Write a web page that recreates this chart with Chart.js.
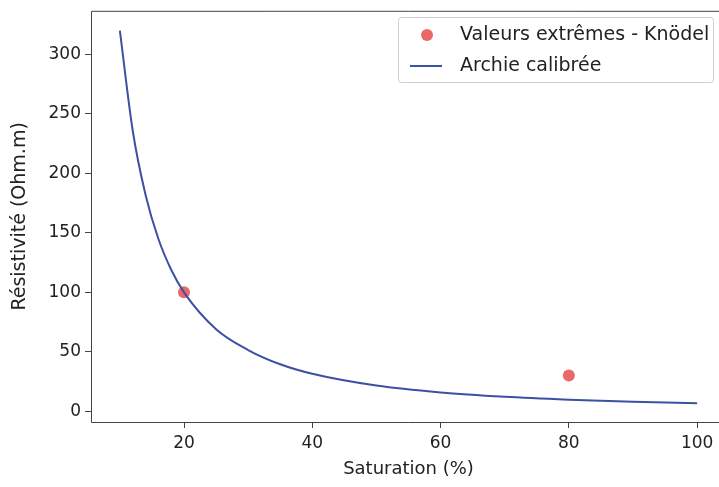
<!DOCTYPE html>
<html>
<head>
<meta charset="utf-8">
<script src="https://cdn.jsdelivr.net/npm/chart.js@4.4.1/dist/chart.umd.min.js"></script>
<style>
    html, body { margin: 0; padding: 0; background: #fff; overflow: hidden; }
    #wrap { width: 735px; height: 487px; }
</style>
</head>
<body>
<div id="wrap"><canvas id="chart" width="735" height="487"></canvas></div>
<script>
// values
const saturation = [10, 12, 14, 16, 18, 20, 25, 30, 35, 40, 50, 60, 70, 80, 90, 100];
const resistivity = [320, 236, 182, 145, 119, 100, 69, 51.5, 39.5, 31.5, 21.6, 15.8, 12.2, 9.8, 8.0, 6.7];
const knodelSat = [20, 80];
const knodelRes = [100, 30];
const xTicks = [20, 40, 60, 80, 100];
const yTicks = [0, 50, 100, 150, 200, 250, 300];
const labels = ['Valeurs extrêmes - Knödel', 'Archie calibrée'];

const lineColor = '#3d51a3';
const dotColor = 'rgba(232, 88, 88, 0.9)';
const font = 'DejaVu Sans';

// matplotlib-like frame and legend box
const frameAndLegend = {
    id: 'frameAndLegend',
    afterDraw(chart) {
        const ctx = chart.ctx;
        const a = chart.chartArea;
        ctx.save();
        ctx.strokeStyle = '#444';
        ctx.lineWidth = 1;
        ctx.beginPath();
        ctx.moveTo(a.right, a.top + 0.5);
        ctx.lineTo(a.left + 0.5, a.top + 0.5);
        ctx.lineTo(a.left + 0.5, a.bottom + 0.5);
        ctx.lineTo(a.right, a.bottom + 0.5);
        ctx.stroke();

        // legend
        const bx = 398, by = 17, bw = 315, bh = 65;
        ctx.fillStyle = 'rgba(255,255,255,0.85)';
        ctx.strokeStyle = '#d0d0d0';
        ctx.beginPath();
        ctx.roundRect(bx + 0.5, by + 0.5, bw, bh, 3);
        ctx.fill();
        ctx.stroke();

        ctx.fillStyle = dotColor;
        ctx.beginPath();
        ctx.arc(427, 35, 6, 0, Math.PI * 2);
        ctx.fill();

        ctx.strokeStyle = lineColor;
        ctx.lineWidth = 2;
        ctx.beginPath();
        ctx.moveTo(410, 66);
        ctx.lineTo(442, 66);
        ctx.stroke();

        ctx.fillStyle = '#222';
        ctx.font = '19px "' + font + '"';
        ctx.textBaseline = 'middle';
        ctx.fillText(labels[0], 460, 35);
        ctx.fillText(labels[1], 460, 66);
        ctx.restore();
    }
};

new Chart(document.getElementById('chart'), {
    type: 'scatter',
    data: {
        datasets: [
            {
                label: labels[0],
                data: knodelSat.map((s, i) => ({ x: s, y: knodelRes[i] })),
                backgroundColor: dotColor,
                borderWidth: 0,
                pointRadius: 6,
                order: 1
            },
            {
                label: labels[1],
                data: saturation.map((s, i) => ({ x: s, y: resistivity[i] })),
                showLine: true,
                borderColor: lineColor,
                borderWidth: 2,
                pointRadius: 0,
                cubicInterpolationMode: 'monotone',
                order: 0
            }
        ]
    },
    options: {
        responsive: false,
        animation: false,
        layout: { padding: { top: 5, right: 9, left: 0, bottom: 0 } },
        plugins: {
            legend: { display: false },
            tooltip: { enabled: false }
        },
        scales: {
            x: {
                type: 'linear',
                min: 5.5,
                max: 104.5,
                afterBuildTicks: (axis) => { axis.ticks = xTicks.map(v => ({ value: v })); },
                afterFit: (axis) => { axis.height = 65; },
                grid: { drawOnChartArea: false, tickLength: 6, tickColor: '#444' },
                border: { display: false },
                ticks: { color: '#222', font: { family: font, size: 17 }, padding: 5 },
                title: {
                    display: true,
                    text: 'Saturation (%)',
                    color: '#222',
                    font: { family: font, size: 18 },
                    padding: { top: 0, bottom: 7 }
                }
            },
            y: {
                min: -9,
                max: 336.6,
                afterBuildTicks: (axis) => { axis.ticks = yTicks.map(v => ({ value: v })); },
                afterFit: (axis) => { axis.width = 91; },
                grid: { drawOnChartArea: false, tickLength: 6, tickColor: '#444' },
                border: { display: false },
                ticks: { color: '#222', font: { family: font, size: 17, lineHeight: 0.8 }, padding: 4 },
                title: {
                    display: true,
                    text: 'Résistivité (Ohm.m)',
                    color: '#222',
                    font: { family: font, size: 19 },
                    padding: { top: 9, bottom: 0 }
                }
            }
        }
    },
    plugins: [frameAndLegend]
});
</script>
</body>
</html>
